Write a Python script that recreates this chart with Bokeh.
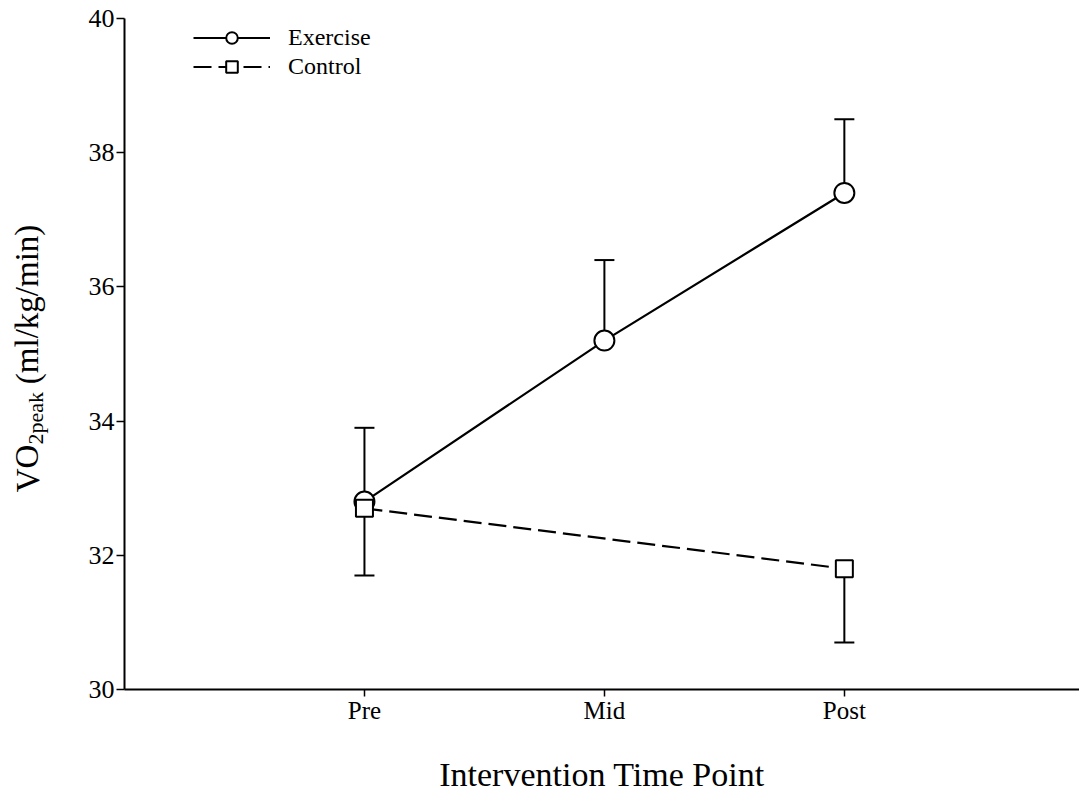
from bokeh.plotting import figure
from bokeh.models import (ColumnDataSource, Whisker, TeeHead, Legend, LegendItem,
                          FixedTicker)
from bokeh.layouts import row
from bokeh.embed import file_html
from bokeh.resources import INLINE
from bokeh.core.properties import value

# ---- data ----
time_labels = ["Pre", "Mid", "Post"]
ex_x = [1, 2, 3]
ex_mean = [32.8, 35.2, 37.4]
ex_upper = [33.9, 36.4, 38.5]
ctl_x = [1, 3]
ctl_mean = [32.7, 31.8]
ctl_lower = [31.7, 30.7]
y_ticks = [30, 32, 34, 36, 38, 40]

FONT = "Liberation Serif"
H = 796
TOP = 18
BOTTOM = 107
LAB_W = 60

p = figure(width=1079 - LAB_W, height=H, output_backend="svg", toolbar_location=None,
           x_range=(0, 3.98), y_range=(30, 40),
           min_border_left=124 - LAB_W, min_border_right=0, min_border_top=TOP,
           min_border_bottom=BOTTOM)
p.outline_line_color = None
p.xgrid.visible = False
p.ygrid.visible = False

ex_src = ColumnDataSource(dict(x=ex_x, y=ex_mean, up=ex_upper))
ctl_src = ColumnDataSource(dict(x=ctl_x, y=ctl_mean, lo=ctl_lower))

# error bars
p.add_layout(Whisker(source=ex_src, base="x", upper="up", lower="y",
                     upper_head=TeeHead(size=20, line_width=2, line_color="black"),
                     lower_head=None, line_width=2, line_color="black"))
p.add_layout(Whisker(source=ctl_src, base="x", upper="y", lower="lo",
                     lower_head=TeeHead(size=20, line_width=2, line_color="black"),
                     upper_head=None, line_width=2, line_color="black"))

ex_line = p.line("x", "y", source=ex_src, line_color="black", line_width=2.2)
ex_pts = p.scatter("x", "y", source=ex_src, marker="circle", size=20,
                   fill_color="white", line_color="black", line_width=2)
ctl_line = p.line("x", "y", source=ctl_src, line_color="black", line_width=2.2,
                  line_dash="18 7")
ctl_pts = p.scatter("x", "y", source=ctl_src, marker="square", size=17,
                    fill_color="white", line_color="black", line_width=2)

# axes
xa = p.xaxis[0]
xa.ticker = FixedTicker(ticks=ex_x)
xa.major_label_overrides = {x: t for x, t in zip(ex_x, time_labels)}
xa.minor_tick_line_color = None
xa.major_tick_in = 0
xa.major_tick_out = 7
xa.axis_line_width = 2
xa.major_tick_line_width = 1.5
xa.major_label_text_font = FONT
xa.major_label_text_font_size = "25px"
xa.major_label_text_color = "black"
xa.major_label_standoff = 0
xa.axis_label = "Intervention Time Point"
xa.axis_label_text_font = FONT
xa.axis_label_text_font_size = "34px"
xa.axis_label_text_font_style = "normal"
xa.axis_label_text_color = "black"
xa.axis_label_standoff = 29

ya = p.yaxis[0]
ya.ticker = FixedTicker(ticks=y_ticks)
ya.minor_tick_line_color = None
ya.major_tick_in = 0
ya.major_tick_out = 8
ya.axis_line_width = 2
ya.major_tick_line_width = 1.5
ya.major_label_text_font = FONT
ya.major_label_text_font_size = "26px"
ya.major_label_text_color = "black"
ya.major_label_standoff = 2

legend = Legend(items=[LegendItem(label="Exercise", renderers=[ex_line, ex_pts]),
                       LegendItem(label="Control", renderers=[ctl_line, ctl_pts])],
                location=(69, 608), glyph_width=77, glyph_height=29, label_height=29,
                spacing=0, padding=0, margin=0, label_standoff=18,
                label_text_font=FONT, label_text_font_size="24px",
                label_text_color="black",
                border_line_color=None, background_fill_alpha=0)
p.add_layout(legend)

# ---- y-axis title panel (VO2peak with subscript) ----
lab = figure(width=LAB_W, height=H, output_backend="svg", toolbar_location=None,
             x_range=(0, LAB_W), y_range=p.y_range,
             min_border_left=0, min_border_right=0, min_border_top=TOP,
             min_border_bottom=BOTTOM)
lab.axis.visible = False
lab.grid.visible = False
lab.outline_line_color = None

ylab_src = ColumnDataSource(dict(
    x=[27, 35, 27],
    y=[32.94, 33.65, 34.55],
    t=["VO", "2peak", "(ml/kg/min)"],
    fs=["33px", "22px", "33px"],
))
lab.text(x="x", y="y", text="t", source=ylab_src, angle=1.5708,
         text_font=value(FONT), text_font_size="fs", text_color="black",
         text_baseline="alphabetic", text_align="left")

layout = row(lab, p, spacing=0)
open("out.html", "w").write(file_html(layout, INLINE))
